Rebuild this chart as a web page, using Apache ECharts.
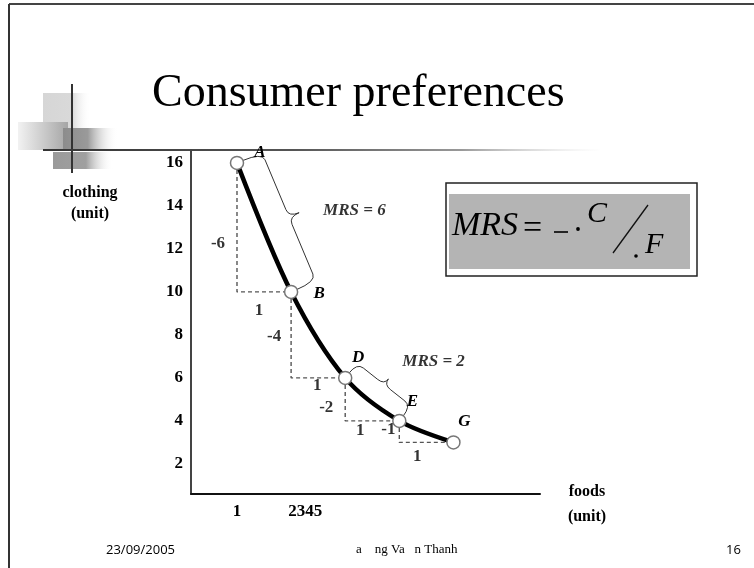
<!DOCTYPE html>
<html>
<head>
<meta charset="utf-8">
<script src="https://cdn.jsdelivr.net/npm/echarts@6/dist/echarts.min.js"></script>
<style>
  html, body { margin: 0; padding: 0; background: #ffffff; }
  #chart { width: 754px; height: 568px; }
</style>
</head>
<body>
<div id="chart"></div>
<script>
// Indifference curve: bundles of foods (x) and clothing (y)
const pointNames = ['A', 'B', 'D', 'E', 'G'];
const foods = [1, 2, 3, 4, 5];
const clothing = [16, 10, 6, 4, 3];

// Axis ticks
const yTickValues = [2, 4, 6, 8, 10, 12, 14, 16];
const xTickValues = [1, 2.26];
const xTickLabels = ['1', '2345'];

// Segments that carry a brace and an MRS note (point indices)
const braceSegments = [[0, 1], [2, 3]];

// ---- styling (pixel offsets of the annotation labels) ----
const SERIF = '"Liberation Serif", "Times New Roman", serif';
const pointLabelOffset = [[23, -10], [28, 2], [13, -20], [13, -19], [11, -21]];
const dyLabelOffset = [[-19, 16], [-17, 2], [-19, 8], [-11, -2]];
const dxLabelOffset = [[-5, 19], [-1, 8], [-12, 10], [-9, 14]];
const braceShape = [{ off: 27, tip: 11 }, { off: 19, tip: 7 }];
const mrsLabelOffset = [[59, -17], [30, -38]];

const pts = foods.map((f, i) => [f, clothing[i]]);

// dashed step triangles between consecutive bundles
const stepSeries = [];
for (let i = 0; i < pts.length - 1; i++) {
  const a = pts[i], b = pts[i + 1];
  stepSeries.push({
    type: 'line',
    data: [[a[0], a[1]], [a[0], b[1]], [b[0], b[1]]],
    symbol: 'none',
    silent: true,
    z: 1,
    lineStyle: { color: '#555', width: 1.4, type: [4, 3] }
  });
}

// labels for the changes along each step (ΔC and ΔF)
const stepLabels = [];
for (let i = 0; i < pts.length - 1; i++) {
  const a = pts[i], b = pts[i + 1];
  const dC = b[1] - a[1];
  const dF = b[0] - a[0];
  stepLabels.push({
    value: [a[0], (a[1] + b[1]) / 2],
    label: { formatter: String(dC), offset: dyLabelOffset[i] }
  });
  stepLabels.push({
    value: [(a[0] + b[0]) / 2, b[1]],
    label: { formatter: String(dF), offset: dxLabelOffset[i] }
  });
}

// MRS notes at the bracketed segments
const mrsLabels = braceSegments.map(([i, j], k) => {
  const mrs = -(clothing[j] - clothing[i]) / (foods[j] - foods[i]);
  return {
    value: [(foods[i] + foods[j]) / 2, (clothing[i] + clothing[j]) / 2],
    label: { formatter: 'MRS = ' + mrs, offset: mrsLabelOffset[k] }
  };
});

function braceItem(params, api) {
  const p1 = api.coord([api.value(0), api.value(1)]);
  const p2 = api.coord([api.value(2), api.value(3)]);
  const dx = p2[0] - p1[0], dy = p2[1] - p1[1];
  const L = Math.hypot(dx, dy);
  const u = [dx / L, dy / L];
  const n = [u[1], -u[0]];
  const s = braceShape[params.dataIndex];
  const r = 8;
  const P = (a, b) => (p1[0] + u[0] * a + n[0] * b).toFixed(1) + ' ' + (p1[1] + u[1] * a + n[1] * b).toFixed(1);
  const h = L / 2;
  const d = 'M' + P(0, 6) + ' Q' + P(0, s.off) + ' ' + P(r, s.off) +
    ' L' + P(h - r, s.off) + ' Q' + P(h, s.off) + ' ' + P(h, s.off + s.tip) +
    ' M' + P(h, s.off + s.tip) + ' Q' + P(h, s.off) + ' ' + P(h + r, s.off) +
    ' L' + P(L - r, s.off) + ' Q' + P(L, s.off) + ' ' + P(L, 6);
  return {
    type: 'path',
    shape: { pathData: d },
    style: { fill: 'none', stroke: '#333', lineWidth: 1 }
  };
}

function txt(x, y, text, font, align) {
  const a = align || 'left';
  return {
    type: 'text', x: x, y: y, silent: true,
    style: { text: text, font: font, fill: '#000', align: a, verticalAlign: 'middle',
             textAlign: a, textVerticalAlign: 'middle' }
  };
}

function hGrad(stops) {
  return new echarts.graphic.LinearGradient(0, 0, 1, 0, stops.map(s => ({ offset: s[0], color: s[1] })));
}

const chart = echarts.init(document.getElementById('chart'), null, { renderer: 'canvas' });

const option = {
  animation: false,
  backgroundColor: '#ffffff',
  grid: { left: 191, top: 150, width: 349, height: 344, containLabel: false },
  xAxis: {
    type: 'value', min: 0.15, max: 6.6,
    axisLine: { show: true, lineStyle: { color: '#111', width: 2 } },
    axisTick: { show: false },
    splitLine: { show: false },
    axisLabel: {
      customValues: xTickValues,
      formatter: v => xTickLabels[xTickValues.indexOf(v)] ?? '',
      margin: 9, color: '#000', fontFamily: SERIF, fontWeight: 'bold', fontSize: 17
    }
  },
  yAxis: {
    type: 'value', min: 0.6, max: 16.6,
    axisLine: { show: true, lineStyle: { color: '#444', width: 2 } },
    axisTick: { show: false },
    splitLine: { show: false },
    axisLabel: {
      customValues: yTickValues,
      margin: 8, color: '#000', fontFamily: SERIF, fontWeight: 'bold', fontSize: 17
    }
  },
  series: [
    ...stepSeries,
    {
      type: 'custom',
      renderItem: braceItem,
      data: braceSegments.map(([i, j]) => [foods[i], clothing[i], foods[j], clothing[j]]),
      encode: { x: [0, 2], y: [1, 3] },
      silent: true,
      z: 2
    },
    {
      type: 'line',
      data: pts.map((p, i) => ({
        value: p,
        label: { formatter: pointNames[i], offset: pointLabelOffset[i] }
      })),
      smooth: 0.3,
      z: 3,
      lineStyle: { color: '#000', width: 4.5 },
      symbol: 'circle',
      symbolSize: 13,
      showSymbol: true,
      itemStyle: { color: '#fff', borderColor: '#777', borderWidth: 1.5 },
      label: {
        show: true, position: 'inside', color: '#000',
        fontFamily: SERIF, fontStyle: 'italic', fontWeight: 'bold', fontSize: 17
      }
    },
    {
      type: 'scatter',
      data: stepLabels,
      symbolSize: 1,
      itemStyle: { color: 'rgba(0,0,0,0)' },
      silent: true,
      z: 4,
      label: {
        show: true, position: 'inside', color: '#000',
        fontFamily: SERIF, fontWeight: 'bold', fontSize: 17
      }
    },
    {
      type: 'scatter',
      data: mrsLabels,
      symbolSize: 1,
      itemStyle: { color: 'rgba(0,0,0,0)' },
      silent: true,
      z: 4,
      label: {
        show: true, position: 'inside', align: 'left', color: '#000',
        fontFamily: SERIF, fontStyle: 'italic', fontWeight: 'bold', fontSize: 17
      }
    }
  ],
  graphic: [
    // slide frame
    { type: 'line', silent: true, shape: { x1: 9, y1: 4, x2: 754, y2: 4 }, style: { stroke: '#444', lineWidth: 2 } },
    { type: 'line', silent: true, shape: { x1: 9, y1: 4, x2: 9, y2: 568 }, style: { stroke: '#333', lineWidth: 2 } },

    // corner ornament
    { type: 'rect', silent: true, z: -1, shape: { x: 43, y: 93, width: 48, height: 36 },
      style: { fill: hGrad([[0, '#d6d6d6'], [0.6, '#d9d9d9'], [1, 'rgba(255,255,255,0)']]) } },
    { type: 'rect', silent: true, z: -1, shape: { x: 18, y: 122, width: 50, height: 28 },
      style: { fill: hGrad([[0, '#f2f2f2'], [1, '#a5a5a5']]) } },
    { type: 'rect', silent: true, z: -1, shape: { x: 63, y: 128, width: 55, height: 22 },
      style: { fill: hGrad([[0, '#8c8c8c'], [0.45, '#9a9a9a'], [1, 'rgba(255,255,255,0)']]) } },
    { type: 'rect', silent: true, z: -1, shape: { x: 53, y: 152, width: 60, height: 17 },
      style: { fill: hGrad([[0, '#9a9a9a'], [0.55, '#a0a0a0'], [1, 'rgba(255,255,255,0)']]) } },
    { type: 'line', silent: true, shape: { x1: 72, y1: 84, x2: 72, y2: 173 }, style: { stroke: '#333', lineWidth: 2 } },
    { type: 'line', silent: true, shape: { x1: 43, y1: 150, x2: 600, y2: 150 },
      style: { stroke: hGrad([[0, '#333'], [0.45, '#555'], [0.75, '#999'], [1, 'rgba(220,220,220,0)']]), lineWidth: 2 } },

    // title
    txt(152, 94, 'Consumer preferences', '46px ' + SERIF),

    // axis titles
    txt(90, 193, 'clothing', 'bold 16px ' + SERIF, 'center'),
    txt(90, 214, '(unit)', 'bold 16px ' + SERIF, 'center'),
    txt(587, 492, 'foods', 'bold 16px ' + SERIF, 'center'),
    txt(587, 517, '(unit)', 'bold 16px ' + SERIF, 'center'),

    // MRS formula box
    { type: 'rect', silent: true, shape: { x: 446, y: 183, width: 251, height: 93 },
      style: { fill: '#fff', stroke: '#222', lineWidth: 1.5 } },
    { type: 'rect', silent: true, shape: { x: 449, y: 194, width: 241, height: 75 },
      style: { fill: '#b4b4b4' } },
    txt(452, 226, 'MRS', 'italic 34px ' + SERIF),
    txt(523, 229, '=', '34px ' + SERIF),
    { type: 'line', silent: true, shape: { x1: 554, y1: 232, x2: 568, y2: 232 }, style: { stroke: '#000', lineWidth: 1.6 } },
    { type: 'circle', silent: true, shape: { cx: 578, cy: 229, r: 1.9 }, style: { fill: '#000' } },
    txt(587, 214, 'C', 'italic 30px ' + SERIF),
    { type: 'line', silent: true, shape: { x1: 613, y1: 253, x2: 648, y2: 205 }, style: { stroke: '#111', lineWidth: 1.3 } },
    { type: 'circle', silent: true, shape: { cx: 636, cy: 256, r: 1.8 }, style: { fill: '#000' } },
    txt(645, 245, 'F', 'italic 30px ' + SERIF),

    // footer
    txt(106, 550, '23/09/2005', '13px "Open Sans", sans-serif'),
    txt(356, 550, 'a    ng Va   n Thanh', '13px ' + SERIF),
    txt(726, 550, '16', '13px "Open Sans", sans-serif')
  ]
};

chart.setOption(option);
</script>
</body>
</html>
